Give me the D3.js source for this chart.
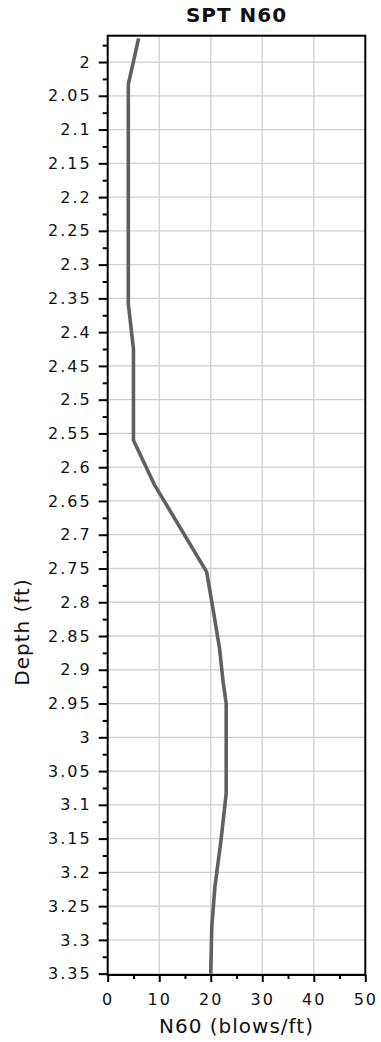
<!DOCTYPE html>
<html>
<head>
<meta charset="utf-8">
<script src="https://cdn.jsdelivr.net/npm/d3@7"></script>
<style>
  html, body { margin: 0; padding: 0; background: #fff; }
  svg { display: block; font-family: "DejaVu Sans", Verdana, sans-serif; }
</style>
</head>
<body>
<svg id="chart" width="381" height="1042"></svg>
<script>
// SPT N60 profile: blow counts versus depth
const depths = [1.965, 2.033, 2.358, 2.425, 2.56, 2.625, 2.755, 2.817, 2.868, 2.918, 2.95, 3.083, 3.152, 3.222, 3.281, 3.35];
const n60    = [6, 4, 4, 5, 5, 9, 19.2, 20.6, 21.7, 22.4, 23, 23, 22, 20.8, 20.2, 20];

const xTickValues = [0, 10, 20, 30, 40, 50];
const yTickValues = d3.range(0, 28).map(i => +(2 + i * 0.05).toFixed(2));
const yMinorValues = d3.range(0, 28).map(i => +(1.975 + i * 0.05).toFixed(3));
const xMinorValues = [5, 15, 25, 35, 45];

const titleText = "SPT N60";
const xLabel = "N60 (blows/ft)";
const yLabel = "Depth (ft)";

const width = 381, height = 1042;
const margin = { top: 35.7, right: 15.7, bottom: 67, left: 107.7 };

const svg = d3.select("#chart");

const x = d3.scaleLinear().domain([0, 50]).range([margin.left, width - margin.right]);
const y = d3.scaleLinear().domain([1.961, 3.352]).range([margin.top, height - margin.bottom]);

const fmt = d => String(+d.toFixed(2));

// grid
const grid = svg.append("g").attr("stroke", "#cfcfcf").attr("stroke-width", 1.3);
grid.selectAll("line.v").data(xTickValues.slice(1, -1)).join("line")
  .attr("x1", d => x(d)).attr("x2", d => x(d))
  .attr("y1", y.range()[0]).attr("y2", y.range()[1]);
grid.selectAll("line.h").data(yTickValues).join("line")
  .attr("x1", x.range()[0]).attr("x2", x.range()[1])
  .attr("y1", d => y(d)).attr("y2", d => y(d));

// data line
const line = d3.line().x((d, i) => x(n60[i])).y(d => y(d));
svg.append("path")
  .attr("d", line(depths))
  .attr("fill", "none")
  .attr("stroke", "#606060")
  .attr("stroke-width", 3.6)
  .attr("stroke-linejoin", "round");

// frame
svg.append("rect")
  .attr("x", x.range()[0]).attr("y", y.range()[0])
  .attr("width", x.range()[1] - x.range()[0])
  .attr("height", y.range()[1] - y.range()[0])
  .attr("fill", "none").attr("stroke", "#000").attr("stroke-width", 2);

// y axis
const yAxis = d3.axisLeft(y).tickValues(yTickValues).tickFormat(fmt).tickSize(9).tickPadding(7);
const gy = svg.append("g").attr("transform", `translate(${x.range()[0]},0)`).call(yAxis);
gy.select(".domain").remove();
gy.selectAll(".tick line").attr("stroke-width", 2);
gy.selectAll(".tick text").attr("font-size", 16).attr("letter-spacing", 2)
  .attr("fill", "#111").attr("font-family", "DejaVu Sans");
const yMinor = d3.axisLeft(y).tickValues(yMinorValues).tickFormat("").tickSize(5);
const gym = svg.append("g").attr("transform", `translate(${x.range()[0]},0)`).call(yMinor);
gym.select(".domain").remove();
gym.selectAll(".tick line").attr("stroke-width", 2);

// x axis
const xAxis = d3.axisBottom(x).tickValues(xTickValues).tickFormat(d => d).tickSize(7).tickPadding(12);
const gx = svg.append("g").attr("transform", `translate(0,${y.range()[1]})`).call(xAxis);
gx.select(".domain").remove();
gx.selectAll(".tick line").attr("stroke-width", 2);
gx.selectAll(".tick text").attr("font-size", 16).attr("letter-spacing", 2)
  .attr("fill", "#111").attr("font-family", "DejaVu Sans");
const xMinor = d3.axisBottom(x).tickValues(xMinorValues).tickFormat("").tickSize(4);
const gxm = svg.append("g").attr("transform", `translate(0,${y.range()[1]})`).call(xMinor);
gxm.select(".domain").remove();
gxm.selectAll(".tick line").attr("stroke-width", 2);

// titles
svg.append("text")
  .attr("x", (x.range()[0] + x.range()[1]) / 2).attr("y", 22)
  .attr("text-anchor", "middle").attr("font-weight", "bold")
  .attr("font-size", 20).attr("letter-spacing", 1).attr("fill", "#111")
  .text(titleText);

svg.append("text")
  .attr("x", (x.range()[0] + x.range()[1]) / 2).attr("y", 1033)
  .attr("text-anchor", "middle")
  .attr("font-size", 20).attr("letter-spacing", 1).attr("fill", "#111")
  .text(xLabel);

svg.append("text")
  .attr("transform", "translate(29,632) rotate(-90)")
  .attr("text-anchor", "middle")
  .attr("font-size", 20).attr("letter-spacing", 1).attr("fill", "#111")
  .text(yLabel);
</script>
</body>
</html>
